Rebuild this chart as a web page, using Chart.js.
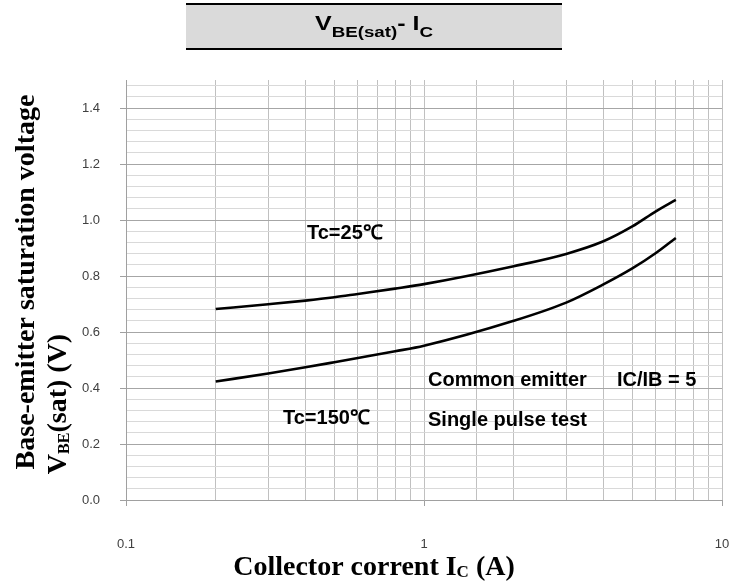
<!DOCTYPE html>
<html>
<head>
<meta charset="utf-8">
<script src="https://cdn.jsdelivr.net/npm/chart.js@4.4.1/dist/chart.umd.min.js"></script>
<style>
  html, body { margin: 0; padding: 0; background: #fff; }
  #wrap { width: 731px; height: 586px; }
</style>
</head>
<body>
<div id="wrap"><canvas id="chart" width="731" height="586"></canvas></div>
<script>
// collector current (A) and VBE(sat) (V)
const currentA = [0.2, 0.3, 0.4, 0.5, 0.6, 0.8, 1, 2, 3, 4, 5, 6, 7];
const vbe25    = [0.682, 0.699, 0.712, 0.724, 0.736, 0.755, 0.771, 0.835, 0.879, 0.924, 0.977, 1.031, 1.072];
const vbe150   = [0.423, 0.452, 0.474, 0.492, 0.507, 0.531, 0.551, 0.640, 0.705, 0.770, 0.827, 0.882, 0.936];

// y grid: minor lines every 0.04 V, labelled major lines every 0.2 V
const yGridValues = [0, 0.04, 0.08, 0.12, 0.16, 0.2, 0.24, 0.28, 0.32, 0.36, 0.4, 0.44, 0.48, 0.52, 0.56, 0.6,
  0.64, 0.68, 0.72, 0.76, 0.8, 0.84, 0.88, 0.92, 0.96, 1.0, 1.04, 1.08, 1.12, 1.16, 1.2, 1.24, 1.28, 1.32,
  1.36, 1.4, 1.44, 1.48];
const yTickLabels = ['0.0', '0.2', '0.4', '0.6', '0.8', '1.0', '1.2', '1.4'];
const xTickLabels = [0.1, 1, 10];

const isMajorY = v => Math.abs(v / 0.2 - Math.round(v / 0.2)) < 1e-6;
const isDecade = v => xTickLabels.some(t => Math.abs(v - t) < 1e-9);

// draws a run of text pieces with their own font and baseline shift
function richText(ctx, parts, x, y, align) {
  let w = 0;
  parts.forEach(p => { ctx.font = p.f; p.w = ctx.measureText(p.t).width; w += p.w; });
  let cx = align === 'center' ? x - w / 2 : x;
  ctx.textAlign = 'left';
  ctx.textBaseline = 'alphabetic';
  parts.forEach(p => { ctx.font = p.f; ctx.fillText(p.t, cx, y + (p.dy || 0)); cx += p.w; });
}

const serifB = px => 'bold ' + px + 'px "Liberation Serif", "Times New Roman", serif';
const sansB = px => 'bold ' + px + 'px "Liberation Sans", Arial, sans-serif';

const decor = {
  id: 'decor',
  afterDraw(chart) {
    const ctx = chart.ctx;
    ctx.save();

    // header box
    ctx.fillStyle = '#dadada';
    ctx.fillRect(186, 4, 376, 45);
    ctx.fillStyle = '#000';
    ctx.fillRect(186, 3, 376, 2);
    ctx.fillRect(186, 48, 376, 2);
    ctx.save();
    ctx.translate(374, 29.5);
    ctx.scale(1.25, 1);
    richText(ctx, [
      { t: 'V', f: sansB(20) }, { t: 'BE(sat)', f: sansB(15), dy: 7 },
      { t: '- I', f: sansB(20) }, { t: 'C', f: sansB(15), dy: 7 }
    ], 0, 0, 'center');
    ctx.restore();

    // x title
    richText(ctx, [
      { t: 'Collector corrent I', f: serifB(28) }, { t: 'C', f: serifB(17), dy: 2 }, { t: ' (A)', f: serifB(28) }
    ], 374, 575, 'center');

    // y titles, rotated
    ctx.save();
    ctx.translate(34, 282);
    ctx.rotate(-Math.PI / 2);
    richText(ctx, [{ t: 'Base-emitter saturation voltage', f: serifB(28) }], 0, 0, 'center');
    ctx.restore();
    ctx.save();
    ctx.translate(66, 404);
    ctx.rotate(-Math.PI / 2);
    richText(ctx, [
      { t: 'V', f: serifB(28) }, { t: 'BE', f: serifB(16), dy: 3 }, { t: '(sat) (V)', f: serifB(28) }
    ], 0, 0, 'center');
    ctx.restore();

    // notes inside the plot
    ctx.font = sansB(20);
    ctx.textAlign = 'left';
    ctx.textBaseline = 'alphabetic';
    ctx.fillText('Tc=25\u2103', 307, 239);
    ctx.fillText('Tc=150\u2103', 283, 424);
    ctx.fillText('Common emitter', 428, 386);
    ctx.fillText('IC/IB = 5', 617, 386);
    ctx.fillText('Single pulse test', 428, 426);
    ctx.restore();
  }
};

const tickFont = { family: '"Liberation Sans", Arial, sans-serif', size: 13 };

new Chart(document.getElementById('chart'), {
  type: 'line',
  data: {
    datasets: [
      { label: 'Tc=25', data: currentA.map((x, i) => ({ x: x, y: vbe25[i] })), borderColor: '#000', borderWidth: 2.6,
        pointRadius: 0, fill: false, cubicInterpolationMode: 'monotone' },
      { label: 'Tc=150', data: currentA.map((x, i) => ({ x: x, y: vbe150[i] })), borderColor: '#000', borderWidth: 2.6,
        pointRadius: 0, fill: false, cubicInterpolationMode: 'monotone' }
    ]
  },
  options: {
    responsive: false,
    animation: false,
    devicePixelRatio: 1,
    layout: { padding: { top: 80, right: 9, left: 0, bottom: 0 } },
    plugins: { legend: { display: false }, tooltip: { enabled: false } },
    scales: {
      x: {
        type: 'logarithmic', min: 0.1, max: 10,
        afterFit: s => { s.height = 86; s.paddingLeft = 0; s.paddingRight = 0; },
        grid: {
          color: '#c0c0c0', lineWidth: 1, tickLength: 6,
          tickColor: c => (c.tick && isDecade(c.tick.value)) ? '#a0a0a0' : 'rgba(0,0,0,0)'
        },
        border: { color: '#a0a0a0', width: 1 },
        ticks: {
          autoSkip: false, maxRotation: 0, padding: 31, color: '#404040', font: tickFont,
          callback: v => isDecade(v) ? String(xTickLabels.find(t => Math.abs(v - t) < 1e-9)) : ''
        }
      },
      y: {
        min: 0, max: 1.5,
        afterBuildTicks: s => { s.ticks = yGridValues.map(v => ({ value: v })); },
        afterFit: s => { s.width = 126; },
        grid: {
          color: c => (c.tick && isMajorY(c.tick.value)) ? '#a6a6a6' : '#d9d9d9',
          lineWidth: 1, tickLength: 6,
          tickColor: c => (c.tick && isMajorY(c.tick.value)) ? '#a0a0a0' : 'rgba(0,0,0,0)'
        },
        border: { color: '#a0a0a0', width: 1 },
        ticks: {
          autoSkip: false, padding: 20, color: '#404040', font: tickFont,
          callback: v => isMajorY(v) ? yTickLabels[Math.round(v / 0.2)] : ''
        }
      }
    }
  },
  plugins: [decor]
});
</script>
</body>
</html>
